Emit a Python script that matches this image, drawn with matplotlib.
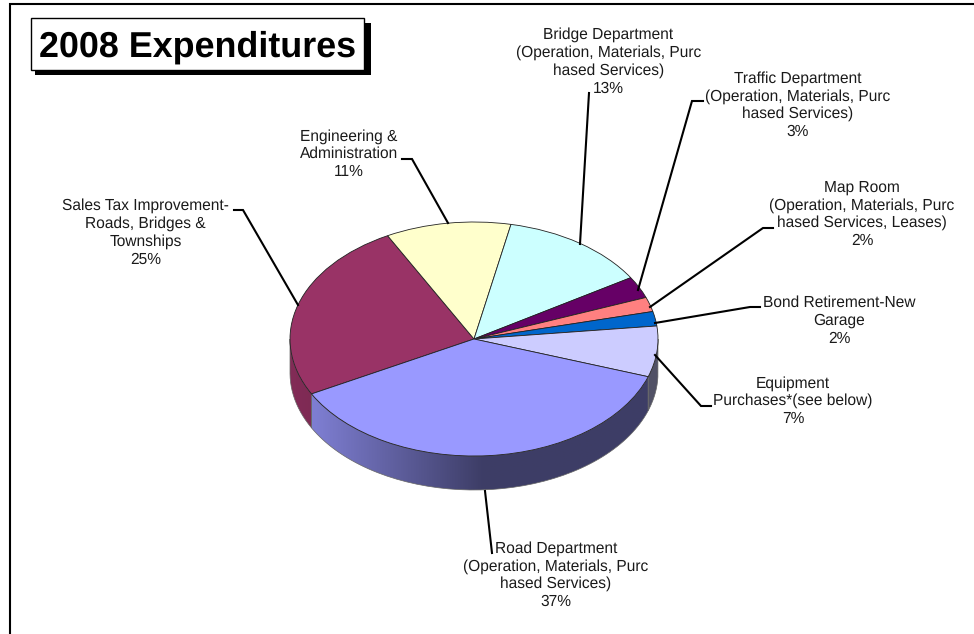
import matplotlib
matplotlib.use('Agg')
import matplotlib.pyplot as plt
import numpy as np
from matplotlib.colors import to_rgb
from matplotlib.patches import PathPatch, Rectangle
from matplotlib.path import Path

plt.rcParams['font.family'] = ['Liberation Sans', 'DejaVu Sans']
plt.rcParams['text.hinting'] = 'no_hinting'

# expenditure shares, clockwise from the sales tax slice
labels = [
    'Sales Tax Improvement-\nRoads, Bridges &\nTownships\n25%',
    'Engineering &\nAdministration\n11%',
    'Bridge Department\n(Operation, Materials, Purc\nhased Services)\n13%',
    'Traffic Department\n(Operation, Materials, Purc\nhased Services)\n3%',
    'Map Room\n(Operation, Materials, Purc\nhased Services, Leases)\n2%',
    'Bond Retirement-New\nGarage\n2%',
    'Equipment\nPurchases*(see below)\n7%',
    'Road Department\n(Operation, Materials, Purc\nhased Services)\n37%',
]
values = [25, 11, 13, 3, 2, 2, 7, 37]
colors = ['#993366', '#FFFFCC', '#CCFFFF', '#660066', '#FF8080', '#0066CC', '#CCCCFF', '#9999FF']

# label centres and leader polylines in pixels
label_xy = [(145.5, 232.5), (349, 154), (608.5, 61.5), (798, 105), (862, 214), (839, 321), (793, 401), (556, 575)]
leaders = [
    [(234, 210), (243, 210), (298, 305)],
    [(402, 159), (412, 159), (448, 223)],
    [(589, 93), (580, 244)],
    [(703, 101), (692, 101), (638, 290)],
    [(773, 228), (763, 228), (650, 307)],
    [(760, 307), (750, 307), (655, 323)],
    [(711, 406), (701, 406), (655, 355)],
    [(492, 553), (485, 491)],
]

W, H = 974, 634
cx, cy, rx, ry = 474, 339, 184, 117
depth = 34 / ry
start = 208
margin = 1.3

fig = plt.figure(figsize=(W / 100, H / 100), dpi=100)

# pie axes is stretched so the circle turns into a tilted ellipse
ax = fig.add_axes([(cx - rx * margin) / W, 1 - (cy + ry * margin) / H,
                   2 * rx * margin / W, 2 * ry * margin / H])
wedges, _ = ax.pie(values, colors=colors, startangle=start, counterclock=False, radius=1,
                   wedgeprops={'edgecolor': '#222222', 'linewidth': 0.6, 'zorder': 5})
ax.set_aspect('auto')
ax.axis('off')


def shade(x):
    return np.interp(x, [-1, -0.86, 0.05, 1], [0.85, 0.82, 0.40, 0.40])


# side wall of the disc, only the front half shows
edges = start - np.cumsum([0] + values) * 3.6
for i in range(len(values)):
    a1, a0 = edges[i], edges[i + 1]
    lo, hi = a0 % 360, (a0 % 360) + (a1 - a0)
    lo2, hi2 = max(lo, 180), min(hi, 360)
    if lo2 >= hi2:
        continue
    t = np.radians(np.linspace(lo2, hi2, 80))
    xs, ys = np.cos(t), np.sin(t)
    verts = np.r_[np.c_[xs, ys], np.c_[xs[::-1], ys[::-1] - depth], [[xs[0], ys[0]]]]
    patch = PathPatch(Path(verts), fc='none', ec='#666666', lw=0.5, zorder=3)
    ax.add_patch(patch)
    xg = np.linspace(-1, 1, 400)
    rgb = np.outer(shade(xg), to_rgb(colors[i]))[None, :, :]
    im = ax.imshow(rgb, extent=(-1, 1, -1 - depth, 1), aspect='auto', zorder=2, interpolation='bilinear')
    im.set_clip_path(patch)
ax.set_xlim(-margin, margin)
ax.set_ylim(-margin, margin)

# overlay in pixel coordinates for the frame, title and labels
ov = fig.add_axes([0, 0, 1, 1], zorder=3)
ov.set_xlim(0, W)
ov.set_ylim(H, 0)
ov.axis('off')

ov.plot([10, 10, W], [H, 4, 4], color='black', lw=1.5, solid_joinstyle='miter')

ov.add_patch(Rectangle((35, 23), 336, 52, fc='black', ec='black', lw=0))
ov.add_patch(Rectangle((31, 18), 333, 52, fc='white', ec='black', lw=1))
ov.text(197.5, 57, '2008 Expenditures', fontsize=25.8, fontweight='bold', ha='center', va='baseline')

for pts in leaders:
    px, py = zip(*pts)
    ov.plot(px, py, color='black', lw=1.5, solid_joinstyle='miter')

for text, (x, y) in zip(labels, label_xy):
    ov.text(x, y, text, fontsize=11.2, color='#1a1a1a', ha='center', va='center', linespacing=1.25)

fig.savefig('out.png', dpi=100)
